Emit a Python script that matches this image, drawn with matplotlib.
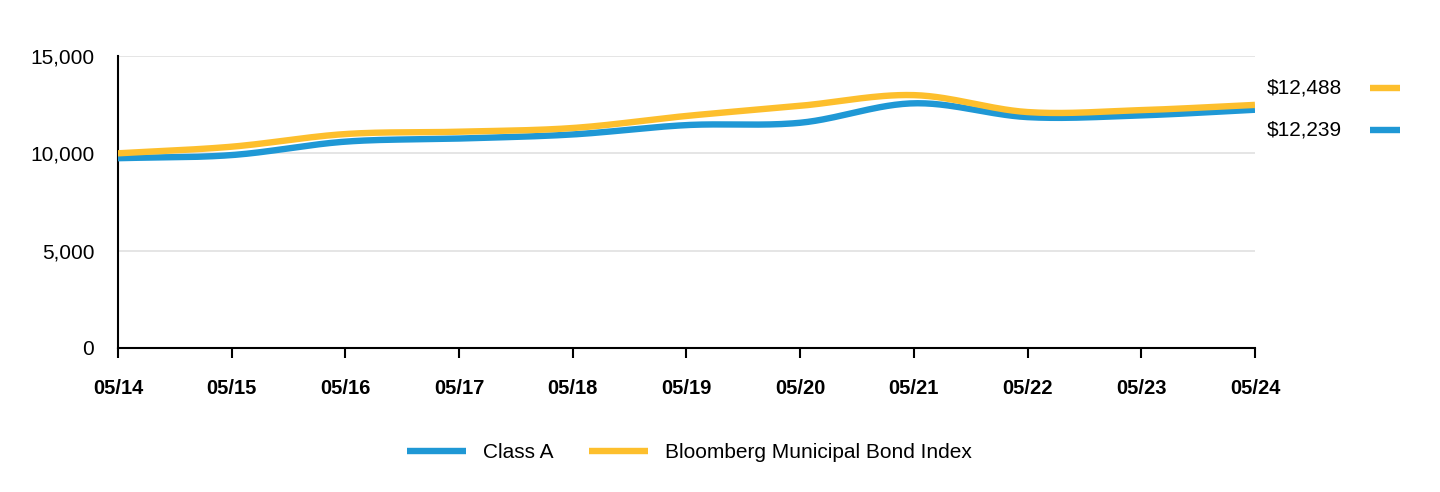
import numpy as np
import matplotlib.pyplot as plt
from matplotlib.ticker import FuncFormatter

# Data
dates = ["05/14", "05/15", "05/16", "05/17", "05/18", "05/19",
         "05/20", "05/21", "05/22", "05/23", "05/24"]
class_a = [9750, 9910, 10600, 10760, 10970, 11450, 11570, 12570, 11860, 11950, 12239]
muni_index = [10000, 10340, 10990, 11110, 11300, 11920, 12440, 12990, 12120, 12220, 12488]

BLUE = "#1f98d5"
YELLOW = "#fdbf2d"
FS = 15

plt.rcParams['font.family'] = ['Liberation Sans', 'DejaVu Sans']


def smooth(y, n=30):
    # Catmull-Rom spline through the points
    y = np.asarray(y, dtype=float)
    p = np.concatenate([[2 * y[0] - y[1]], y, [2 * y[-1] - y[-2]]])
    xs, ys = [], []
    t = np.linspace(0, 1, n, endpoint=False)
    for i in range(1, len(p) - 2):
        p0, p1, p2, p3 = p[i - 1], p[i], p[i + 1], p[i + 2]
        seg = 0.5 * ((2 * p1) + (-p0 + p2) * t
                     + (2 * p0 - 5 * p1 + 4 * p2 - p3) * t ** 2
                     + (-p0 + 3 * p1 - 3 * p2 + p3) * t ** 3)
        xs.extend(i - 1 + t)
        ys.extend(seg)
    xs.append(len(y) - 1)
    ys.append(y[-1])
    return np.array(xs), np.array(ys)


fig = plt.figure(figsize=(14.4, 4.92), dpi=100)
ax = fig.add_axes([0.0819, 0.2927, 0.7896, 0.5935])

x_pos = np.arange(len(dates))
xa, ya = smooth(class_a)
xb, yb = smooth(muni_index)
ax.plot(xa, ya, color=BLUE, lw=4.6, solid_capstyle='butt', label="Class A", zorder=3)
ax.plot(xb, yb, color=YELLOW, lw=4.6, solid_capstyle='butt',
        label="Bloomberg Municipal Bond Index", zorder=3)

ax.set_xlim(0, len(dates) - 1)
ax.set_ylim(0, 15000)
ax.set_yticks([0, 5000, 10000, 15000])
ax.yaxis.set_major_formatter(FuncFormatter(lambda v, p: f"{int(v):,}"))
ax.set_xticks(x_pos)
ax.set_xticklabels(dates, fontweight='bold')
ax.tick_params(axis='x', length=7, width=1.5, pad=15, labelsize=14.5, color='black')
ax.tick_params(axis='y', length=0, pad=17, labelsize=FS)
ax.grid(axis='y', color='#e0e0e0', lw=1.2, zorder=0)
for s in ['top', 'right']:
    ax.spines[s].set_visible(False)
ax.spines['left'].set_linewidth(1.5)
ax.spines['bottom'].set_linewidth(1.5)
ax.spines['bottom'].set_zorder(4)

# End value labels on the right
fig.text(1267 / 1440, 1 - 88 / 492, f"${muni_index[-1]:,}", fontsize=FS, va='center', ha='left')
fig.text(1267 / 1440, 1 - 130 / 492, f"${class_a[-1]:,}", fontsize=FS, va='center', ha='left')
fig.add_artist(plt.Line2D([1370 / 1440, 1400 / 1440], [1 - 88 / 492] * 2, color=YELLOW,
                          lw=4.6, solid_capstyle='butt'))
fig.add_artist(plt.Line2D([1370 / 1440, 1400 / 1440], [1 - 130 / 492] * 2, color=BLUE,
                          lw=4.6, solid_capstyle='butt'))

fig.legend(loc='center', bbox_to_anchor=(0.479, 1 - 453 / 492), ncol=2, frameon=False,
           fontsize=FS, handlelength=2.8, handletextpad=0.85, columnspacing=1.7)

fig.savefig("out.png", dpi=100)
